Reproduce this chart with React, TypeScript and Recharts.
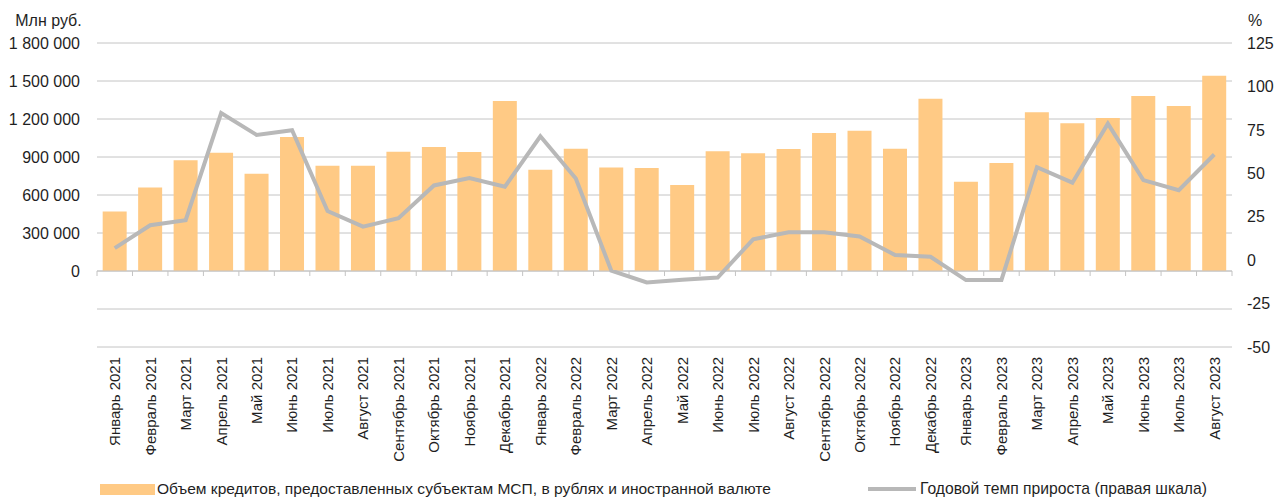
import React from 'react';
import { ComposedChart, Bar, Line, XAxis, YAxis, CartesianGrid, ReferenceLine, Legend } from 'recharts';

const months = [
  'Январь 2021', 'Февраль 2021', 'Март 2021', 'Апрель 2021', 'Май 2021', 'Июнь 2021',
  'Июль 2021', 'Август 2021', 'Сентябрь 2021', 'Октябрь 2021', 'Ноябрь 2021', 'Декабрь 2021',
  'Январь 2022', 'Февраль 2022', 'Март 2022', 'Апрель 2022', 'Май 2022', 'Июнь 2022',
  'Июль 2022', 'Август 2022', 'Сентябрь 2022', 'Октябрь 2022', 'Ноябрь 2022', 'Декабрь 2022',
  'Январь 2023', 'Февраль 2023', 'Март 2023', 'Апрель 2023', 'Май 2023', 'Июнь 2023',
  'Июль 2023', 'Август 2023',
];

const loans = [
  470000, 660000, 875000, 934000, 768000, 1058000, 831000, 830000, 942000, 979000, 939000, 1342000,
  800000, 966000, 818000, 813000, 679000, 945000, 929000, 963000, 1089000, 1108000, 966000, 1360000,
  705000, 853000, 1253000, 1166000, 1208000, 1382000, 1303000, 1542000,
];

const growth = [
  6.9, 20.1, 23, 84.7, 72.1, 74.8, 28.3, 19.3, 24.1, 43, 47.2, 42.3,
  71.3, 47, -6.1, -12.8, -11.3, -10, 12, 16.1, 16.1, 13.6, 3, 1.9,
  -11.5, -11.4, 53.5, 44.6, 78.6, 46.1, 40.3, 60.8,
];

const leftTicks = [-600000, -300000, 0, 300000, 600000, 900000, 1200000, 1500000, 1800000];
const rightTicks = [-50, -25, 0, 25, 50, 75, 100, 125];

const seriesNames = {
  loans: 'Объем кредитов, предоставленных субъектам МСП, в рублях и иностранной валюте',
  growth: 'Годовой темп прироста (правая шкала)',
};

const data = months.map((m, i) => ({ month: m, loans: loans[i], growth: growth[i] }));

const FONT = '"Liberation Sans", Arial, sans-serif';
const TEXT = '#1f1f1f';
const BAR = '#FFCA85';
const LINE = '#B8B8B8';
const GRID = '#C4C4C4';

const fmtLeft = (v: number) => (v < 0 ? '' : String(v).replace(/\B(?=(\d{3})+(?!\d))/g, ' '));

const XTick = (props: any) => {
  const { x, y, payload } = props;
  return (
    <g transform={`translate(${x},${y})`}>
      <text
        transform="rotate(-90)"
        x={-2}
        y={0}
        dy="0.36em"
        textAnchor="end"
        fill={TEXT}
        fontSize={15}
        fontFamily={FONT}
      >
        {payload.value}
      </text>
    </g>
  );
};

const ZeroAxis = (props: any) => {
  const { x1, y1, x2 } = props;
  const n = months.length;
  const step = (x2 - x1) / n;
  const ticks = [];
  for (let i = 0; i <= n; i++) {
    const tx = x1 + i * step;
    ticks.push(<line key={i} x1={tx} x2={tx} y1={y1} y2={y1 + 5} stroke={GRID} strokeWidth={1} />);
  }
  return (
    <g>
      <line x1={x1} x2={x2} y1={y1} y2={y1} stroke={GRID} strokeWidth={1} />
      {ticks}
    </g>
  );
};

const LegendContent = () => (
  <div style={{ position: 'relative', width: 1278, height: 26, fontFamily: FONT, color: TEXT }}>
    <div style={{ position: 'absolute', left: 100, top: 0, height: 26, display: 'flex', alignItems: 'center', fontSize: 15.55 }}>
      <span style={{ display: 'inline-block', width: 55, height: 11, background: BAR, marginRight: 2 }} />
      <span>{seriesNames.loans}</span>
    </div>
    <div style={{ position: 'absolute', left: 868, top: 0, height: 26, display: 'flex', alignItems: 'center', fontSize: 15.7 }}>
      <span style={{ display: 'inline-block', width: 48, height: 4, background: LINE, marginRight: 4 }} />
      <span>{seriesNames.growth}</span>
    </div>
  </div>
);

export default function App() {
  return (
    <div style={{ position: 'absolute', left: 0, top: 0, width: 1278, height: 502, background: '#fff' }}>
      <ComposedChart
        width={1278}
        height={502}
        data={data}
        margin={{ top: 43, right: 0, bottom: 0, left: 0 }}
        barCategoryGap="16%"
      >
        <CartesianGrid yAxisId="left" vertical={false} stroke={GRID} strokeWidth={1} />
        <XAxis
          dataKey="month"
          interval={0}
          height={129}
          axisLine={false}
          tickLine={false}
          tick={<XTick />}
        />
        <YAxis
          yAxisId="left"
          orientation="left"
          width={97}
          domain={[-600000, 1800000]}
          ticks={leftTicks}
          tickFormatter={fmtLeft}
          axisLine={false}
          tickLine={false}
          tickSize={6}
          tickMargin={11}
          tick={{ fill: TEXT, fontSize: 16, fontFamily: FONT }}
          label={{ value: 'Млн руб.', position: 'top', offset: 17, fill: TEXT, fontSize: 16, fontFamily: FONT }}
        />
        <YAxis
          yAxisId="right"
          orientation="right"
          width={46}
          domain={[-50, 125]}
          ticks={rightTicks}
          axisLine={false}
          tickLine={false}
          tickSize={6}
          tickMargin={9}
          tick={{ fill: TEXT, fontSize: 16, fontFamily: FONT }}
          label={{ value: '%', position: 'top', offset: 17, fill: TEXT, fontSize: 16, fontFamily: FONT }}
        />
        <Bar yAxisId="left" dataKey="loans" name={seriesNames.loans} fill={BAR} isAnimationActive={false} />
        <ReferenceLine yAxisId="left" y={0} shape={(p: any) => <ZeroAxis {...p} />} />
        <Line
          yAxisId="right"
          dataKey="growth"
          name={seriesNames.growth}
          type="linear"
          stroke={LINE}
          strokeWidth={4}
          dot={false}
          activeDot={false}
          isAnimationActive={false}
        />
        <Legend
          verticalAlign="bottom"
          height={26}
          content={<LegendContent />}
          wrapperStyle={{ left: 0, bottom: 0, width: 1278, height: 26 }}
        />
      </ComposedChart>
    </div>
  );
}
